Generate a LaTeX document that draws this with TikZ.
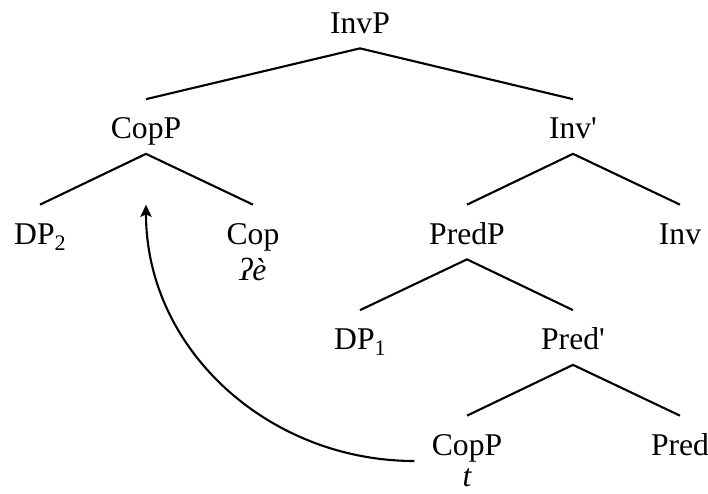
\documentclass[tikz,border=0pt]{standalone}
\usepackage{fontspec}
\setmainfont{Liberation Serif}
\usetikzlibrary{arrows.meta}

\newcommand{\lowsub}[1]{\raisebox{-0.2em}{\fontsize{12.6}{13}\selectfont #1}}

\begin{document}
\begin{tikzpicture}[tn/.style = {anchor = base, inner sep = 0, text height = 0.78cm, text depth = 0.3cm, font = \fontsize{18}{20}\selectfont},
    form/.style = {anchor = base, inner sep = 0, font = \fontsize{18}{20}\selectfont\itshape},
    br/.style = {line width = 1.2pt}]
    \useasboundingbox (0,0) rectangle (14.16,-9.86);
    \node (InvP) at (7.2,-0.66) [tn] {InvP};
    \node (CopP) at (2.92,-2.77) [tn] {CopP};
    \node (Invbar) at (11.46,-2.77) [tn] {Inv\textquotesingle};
    \node (DPtwo) at (0.8,-4.88) [tn] {DP\lowsub{2}};
    \node (Cop) at (5.06,-4.88) [tn] {Cop};
    \node (Copform) at ([yshift=-0.72cm]Cop.base) [form] {ʔè};
    \node (PredP) at (9.34,-4.88) [tn] {PredP};
    \node (Inv) at (13.6,-4.88) [tn] {Inv};
    \node (DPone) at (7.2,-6.99) [tn] {DP\lowsub{1}};
    \node (Predbar) at (11.46,-6.99) [tn] {Pred\textquotesingle};
    \node (CopPt) at (9.34,-9.1) [tn] {CopP};
    \node (trace) at ([yshift=-0.62cm]CopPt.base) [form] {t};
    \node (Pred) at (13.6,-9.1) [tn] {Pred};
    \draw [br] (CopP.north) -- (InvP.south) -- (Invbar.north);
    \draw [br] (DPtwo.north) -- (CopP.south) -- (Cop.north);
    \draw [br] (PredP.north) -- (Invbar.south) -- (Inv.north);
    \draw [br] (DPone.north) -- (PredP.south) -- (Predbar.north);
    \draw [br] (CopPt.north) -- (Predbar.south) -- (Pred.north);
    % movement of the lower CopP
    \coordinate (land) at (CopP.south |- DPtwo.north);
    \draw [br, -{Stealth[length = 7pt, width = 6.5pt, inset = 1.5pt]}] ([xshift = -0.34cm, yshift = -0.12cm]CopPt.base west) to [out = 180, in = -90] (land);
\end{tikzpicture}
\end{document}
